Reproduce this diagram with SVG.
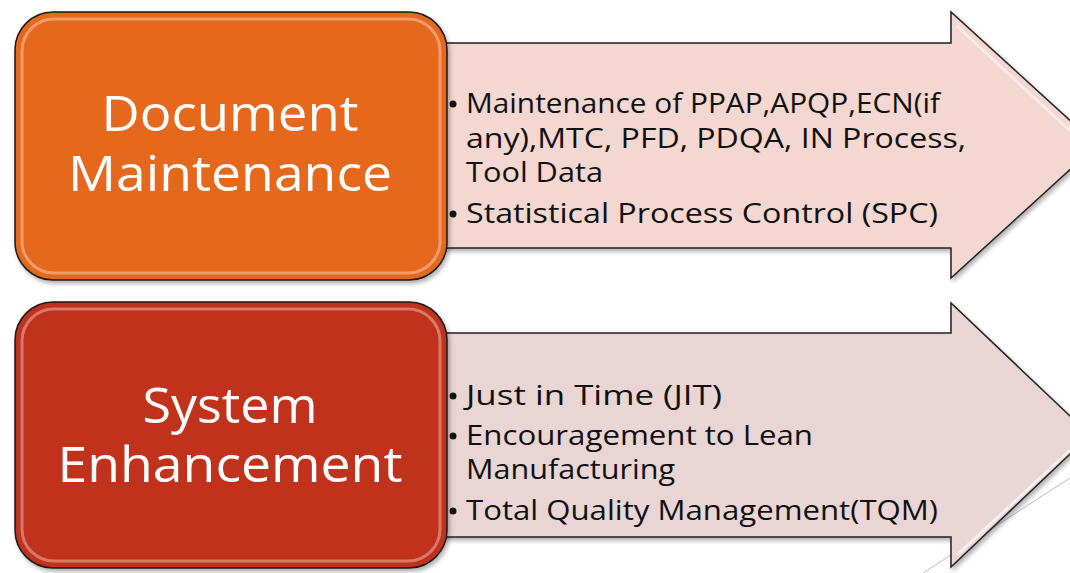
<svg xmlns="http://www.w3.org/2000/svg" width="1070" height="573" viewBox="0 0 1070 573">
<style>
.title{font-family:"Open Sans","Noto Sans","DejaVu Sans",sans-serif;font-size:50px;fill:#FFFFFF;text-anchor:middle}
.item{font-family:"Open Sans","Noto Sans","DejaVu Sans",sans-serif;font-size:27px;fill:#111111}
.box{stroke:#1a1a1a;stroke-width:1.5}
.gloss{fill:none;stroke:#FFFFFF;stroke-opacity:0.35;stroke-width:3}
.arrow{stroke:#222222;stroke-width:1.5}
</style>
<defs>
<filter id="sh" x="-5%" y="-5%" width="115%" height="115%">
<feDropShadow dx="2" dy="3" stdDeviation="2" flood-color="#000000" flood-opacity="0.3"/>
</filter>
</defs>
<rect width="1070" height="573" fill="#FFFFFF"/>
<g id="connectors">
<line x1="923" y1="573" x2="1070" y2="478" stroke="#BBBBBB" stroke-width="1"/>
</g>
<g id="arrow1">
<polygon class="arrow" fill="#F3D7D0" filter="url(#sh)" points="430,43 951,43 951,12 1097,145 951,278 951,248 430,248"/>
<polyline points="957,26 1080,140" fill="none" stroke="#FFFFFF" stroke-opacity="0.5" stroke-width="3"/>
</g>
<g id="arrow2">
<polygon class="arrow" fill="#EAD5D5" filter="url(#sh)" points="430,333 951,333 951,303 1090,435 951,567 951,537 430,537"/>
<polyline points="957,555 1070,450" fill="none" stroke="#FFFFFF" stroke-opacity="0.6" stroke-width="3"/>
</g>
<g id="node1">
<rect class="box" x="15" y="12" width="432" height="268" rx="38" ry="38" fill="#E5671A" filter="url(#sh)"/>
<rect class="gloss" x="22" y="19" width="418" height="254" rx="32" ry="32"/>
<text class="title" x="230" y="131" textLength="257" lengthAdjust="spacingAndGlyphs">Document</text>
<text class="title" x="230" y="191" textLength="324" lengthAdjust="spacingAndGlyphs">Maintenance</text>
</g>
<g id="node2">
<rect class="box" x="15" y="302" width="432" height="266" rx="38" ry="38" fill="#C0301A" filter="url(#sh)"/>
<rect class="gloss" x="22" y="309" width="418" height="252" rx="32" ry="32"/>
<text class="title" x="230" y="423" textLength="175" lengthAdjust="spacingAndGlyphs">System</text>
<text class="title" x="230" y="482" textLength="345" lengthAdjust="spacingAndGlyphs">Enhancement</text>
</g>
<g id="list1">
<circle cx="453" cy="104" r="3.5" fill="#111111"/>
<text class="item" x="466" y="113" textLength="474" lengthAdjust="spacingAndGlyphs">Maintenance of PPAP,APQP,ECN(if</text>
<text class="item" x="466" y="148" textLength="500" lengthAdjust="spacingAndGlyphs">any),MTC, PFD, PDQA, IN Process,</text>
<text class="item" x="466" y="182" textLength="137" lengthAdjust="spacingAndGlyphs">Tool Data</text>
<circle cx="453" cy="214" r="3.5" fill="#111111"/>
<text class="item" x="466" y="223" textLength="472" lengthAdjust="spacingAndGlyphs">Statistical Process Control (SPC)</text>
</g>
<g id="list2">
<circle cx="453" cy="396" r="3.5" fill="#111111"/>
<text class="item" x="466" y="405" textLength="256" lengthAdjust="spacingAndGlyphs">Just in Time (JIT)</text>
<circle cx="453" cy="436" r="3.5" fill="#111111"/>
<text class="item" x="466" y="445" textLength="347" lengthAdjust="spacingAndGlyphs">Encouragement to Lean</text>
<text class="item" x="466" y="479" textLength="209" lengthAdjust="spacingAndGlyphs">Manufacturing</text>
<circle cx="453" cy="511" r="3.5" fill="#111111"/>
<text class="item" x="466" y="520" textLength="472" lengthAdjust="spacingAndGlyphs">Total Quality Management(TQM)</text>
</g>
</svg>
